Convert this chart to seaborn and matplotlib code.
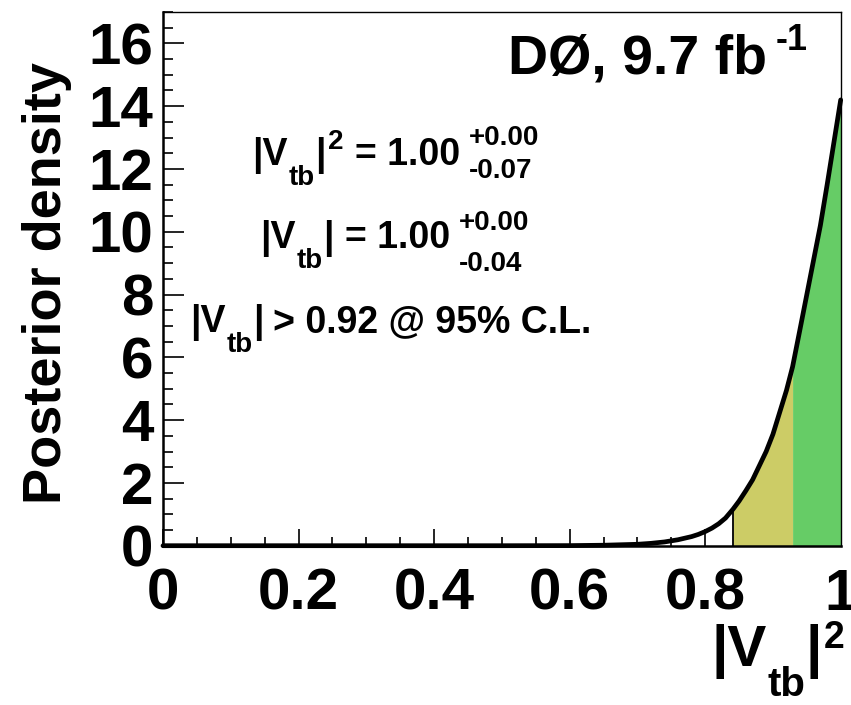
import numpy as np
import pandas as pd
import matplotlib
matplotlib.use("Agg")
import matplotlib.pyplot as plt
import seaborn as sns
from matplotlib.ticker import MultipleLocator, FuncFormatter

# Posterior density of |Vtb|^2
vtb2 = [0.0, 0.50, 0.60, 0.65, 0.70, 0.72, 0.74, 0.76, 0.78, 0.79, 0.80,
        0.81, 0.82, 0.83, 0.841, 0.85, 0.86, 0.87, 0.88, 0.89, 0.90, 0.91,
        0.92, 0.929, 0.94, 0.95, 0.96, 0.97, 0.98, 0.99, 1.00]
density = [0.0, 0.0, 0.003, 0.015, 0.045, 0.075, 0.12, 0.19, 0.29, 0.36, 0.45,
           0.56, 0.70, 0.88, 1.16, 1.42, 1.75, 2.10, 2.55, 3.00, 3.55, 4.25,
           4.95, 5.70, 6.90, 8.00, 9.10, 10.20, 11.50, 12.85, 14.20]

ci95_low = 0.841   # |Vtb| > 0.92 @ 95% C.L.
ci68_low = 0.929   # 1.00 - 0.07

YELLOW = "#cccc66"
GREEN = "#66cc66"

sns.set_theme(style="ticks")
plt.rcParams["font.family"] = ["Liberation Sans", "DejaVu Sans"]
plt.rcParams["font.weight"] = "bold"
for key in ["text.color", "axes.labelcolor", "xtick.color", "ytick.color",
            "xtick.labelcolor", "ytick.labelcolor", "axes.edgecolor"]:
    plt.rcParams[key] = "black"

W, H = 851, 705
fig = plt.figure(figsize=(W / 100, H / 100), dpi=100)
ax = fig.add_axes([163 / W, 1 - 545.7 / H, (840.7 - 163) / W, (545.7 - 12) / H])

df = pd.DataFrame({"vtb2": vtb2, "density": density})
x = df["vtb2"].to_numpy()
y = df["density"].to_numpy()

band95 = (x >= ci95_low) & (x <= ci68_low)
band68 = x >= ci68_low
ax.fill_between(x[band95], y[band95], color=YELLOW, lw=0, zorder=1)
ax.fill_between(x[band68], y[band68], color=GREEN, lw=0, zorder=1)
ax.vlines(ci95_low, 0, y[x == ci95_low][0], color="black", lw=1.3, zorder=2)

sns.lineplot(data=df, x="vtb2", y="density", color="black", lw=3.4,
             ax=ax, sort=False, zorder=3, clip_on=False)

ax.set_xlim(0, 1)
ax.set_ylim(0, 17)
ax.set_xlabel("")
ax.set_ylabel("")

ax.xaxis.set_major_locator(MultipleLocator(0.2))
ax.xaxis.set_minor_locator(MultipleLocator(0.05))
ax.yaxis.set_major_locator(MultipleLocator(2))
ax.yaxis.set_minor_locator(MultipleLocator(0.5))
ax.xaxis.set_major_formatter(FuncFormatter(lambda v, _: f"{v:g}"))
ax.yaxis.set_major_formatter(FuncFormatter(lambda v, _: f"{v:g}"))

ax.tick_params(which="both", direction="in", top=False, right=False,
               color="black", labelcolor="black", width=1.2)
ax.tick_params(axis="x", which="major", length=12, pad=16, labelsize=42)
ax.tick_params(axis="x", which="minor", length=6.5)
ax.tick_params(axis="y", which="major", length=15, pad=7, labelsize=42)
ax.tick_params(axis="y", which="minor", length=7)
for lab in ax.get_xticklabels() + ax.get_yticklabels():
    lab.set_fontweight("bold")

for side in ["left", "bottom"]:
    ax.spines[side].set_linewidth(1.8)
for side in ["top", "right"]:
    ax.spines[side].set_linewidth(1.0)
for sp in ax.spines.values():
    sp.set_color("black")

fig.text(47 / W, 1 - 283 / H, "Posterior density", rotation=90,
         ha="center", va="center", fontsize=39, fontweight="bold",
         color="black")

renderer = fig.canvas.get_renderer()


def text_runs(x0, base, pieces):
    """Lay out text pieces left to right; each piece is
    (text, fontsize, baseline shift in px (down is positive), gap in px)."""
    xc = x0
    for s, size, dy, gap in pieces:
        xc += gap
        t = fig.text(xc / W, 1 - (base + dy) / H, s, fontsize=size,
                     fontweight="bold", ha="left", va="baseline",
                     color="black")
        xc = t.get_window_extent(renderer).x1
    return xc


def stacked(x0, base_up, base_dn, up, dn, size):
    for s, b in [(up, base_up), (dn, base_dn)]:
        fig.text(x0 / W, 1 - b / H, s, fontsize=size, fontweight="bold",
                 ha="left", va="baseline", color="black")


# experiment label
text_runs(508, 74, [("DØ, 9.7 fb", 40, 0, 0), ("-1", 26, -24, 9)])

# measurements
end1 = text_runs(252, 165, [("|V", 27, 0, 0), ("tb", 20, 20, 1), ("|", 27, 0, 1),
                            ("2", 20, -16, 2), ("= 1.00", 27, 0, 11)])
stacked(end1 + 9, 145, 178, "+0.00", "-0.07", 20)

end2 = text_runs(260, 248, [("|V", 27, 0, 0), ("tb", 20, 20, 1), ("|", 27, 0, 1),
                            ("= 1.00", 27, 0, 11)])
stacked(end2 + 9, 230, 271, "+0.00", "-0.04", 20)

text_runs(190, 332, [("|V", 27, 0, 0), ("tb", 20, 20, 1), ("|", 27, 0, 1),
                     ("> 0.92 @ 95% C.L.", 27, 0, 9)])

# axis title
text_runs(712, 666, [("|V", 42, 0, 0), ("tb", 29, 30, 0), ("|", 42, 0, 0),
                     ("2", 27, -18, 2)])

fig.savefig("out.png", dpi=100)
